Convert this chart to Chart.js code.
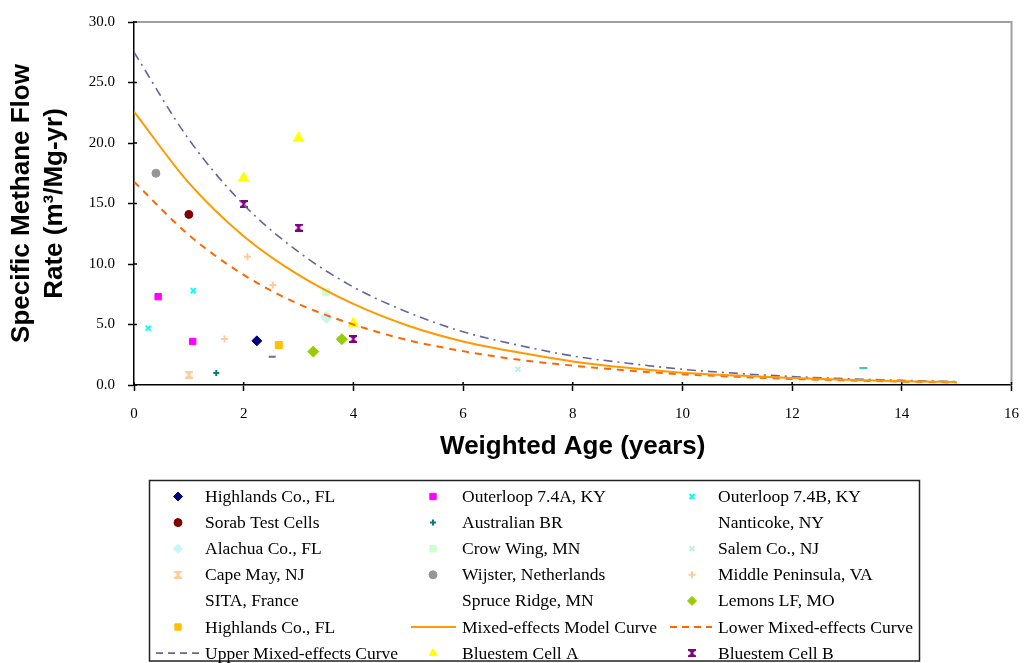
<!DOCTYPE html>
<html>
<head>
<meta charset="utf-8">
<script src="https://cdn.jsdelivr.net/npm/chart.js@4.4.1/dist/chart.umd.min.js"></script>
<style>
html,body{margin:0;padding:0;background:#fff;}
#wrap{width:1033px;height:663px;position:relative;}
</style>
</head>
<body>
<div id="wrap"><canvas id="c" width="1033" height="663"></canvas></div>
<script>
// ---------- data ----------
const xTickValues = [0, 2, 4, 6, 8, 10, 12, 14, 16];
const yTickValues = [0, 5, 10, 15, 20, 25, 30];

const curveAge   = [0, 1, 2, 3, 4, 5, 6, 7, 8, 9, 10, 11, 12, 13, 14, 15];
const mixedCurve = [22.6, 16.7, 12.3, 9.1, 6.7, 4.9, 3.6, 2.7, 1.95, 1.42, 1.02, 0.78, 0.58, 0.43, 0.32, 0.25];
const lowerCurve = [16.8, 12.4, 9.1, 6.7, 5.0, 3.7, 2.8, 2.1, 1.6, 1.2, 0.88, 0.68, 0.5, 0.38, 0.28, 0.2];
const upperCurve = [27.5, 20.3, 14.9, 11.0, 8.1, 6.0, 4.4, 3.3, 2.4, 1.8, 1.3, 0.96, 0.7, 0.52, 0.38, 0.28];

// [weighted age, specific methane flow rate]
const highlandsFL      = [[2.24, 3.65]];
const outerloop74A     = [[0.44, 7.3], [1.07, 3.6]];
const outerloop74B     = [[0.26, 4.7], [1.08, 7.8]];
const sorabTestCells   = [[1.0, 14.1]];
const australianBR     = [[1.5, 1.0]];
const nanticokeNY      = [[13.3, 1.4]];
const alachuaFL        = [[3.51, 5.6]];
const crowWingMN       = [[3.5, 7.7]];
const salemNJ          = [[7.0, 1.3]];
const capeMayNJ        = [[1.0, 0.85]];
const wijsterNL        = [[0.4, 17.5]];
const middlePeninsula  = [[2.07, 10.6], [2.53, 8.27], [1.65, 3.8]];
const sitaFrance       = [[2.52, 2.33]];
const spruceRidgeMN    = [];
const lemonsLF         = [[3.27, 2.76], [3.79, 3.79]];
const highlandsFL2     = [[2.64, 3.3]];
const bluestemA        = [[2.0, 17.1], [3.0, 20.4], [4.0, 5.1]];
const bluestemB        = [[2.0, 14.95], [3.0, 13.0], [4.0, 3.8]];

// ---------- helpers ----------
const pts = arr => arr.map(p => ({x: p[0], y: p[1]}));
const curvePts = ys => curveAge.map((a, i) => ({x: a, y: ys[i]}));

// Excel-like "star" marker, which looks like a small I-beam / hourglass
function beamMarker(color) {
  const c = document.createElement('canvas');
  c.width = 8; c.height = 8;
  const g = c.getContext('2d');
  g.fillStyle = color;
  g.strokeStyle = color;
  g.fillRect(0, 0, 8, 2);
  g.fillRect(0, 6, 8, 2);
  g.lineWidth = 1.4;
  g.beginPath();
  g.moveTo(1, 1); g.lineTo(7, 7);
  g.moveTo(7, 1); g.lineTo(1, 7);
  g.stroke();
  g.fillRect(3, 0, 2, 8);
  return c;
}

function marker(label, data, style, color, radius, opts) {
  const stroke = ['cross', 'crossRot', 'line', 'dash'].includes(style);
  return Object.assign({
    label: label,
    data: pts(data),
    showLine: false,
    pointStyle: style,
    pointRadius: radius,
    pointHoverRadius: radius,
    backgroundColor: color,
    borderColor: color,
    borderWidth: stroke ? 2 : 1,
    order: 2
  }, opts || {});
}
function curve(label, ys, color, dash, width) {
  return {
    label: label,
    data: curvePts(ys),
    showLine: true,
    pointRadius: 0,
    borderColor: color,
    backgroundColor: color,
    borderWidth: width,
    borderDash: dash,
    cubicInterpolationMode: 'monotone',
    fill: false,
    order: 1,
    isCurve: true
  };
}

const datasets = [
  marker('Highlands Co., FL', highlandsFL, 'rectRot', '#000080', 5),
  marker('Outerloop 7.4A, KY', outerloop74A, 'rect', '#FF00FF', 4.5),
  marker('Outerloop 7.4B, KY', outerloop74B, 'crossRot', '#00FFFF', 3.5),
  marker('Sorab Test Cells', sorabTestCells, 'circle', '#800000', 4),
  marker('Australian BR', australianBR, 'cross', '#008080', 3),
  marker('Nanticoke, NY', nanticokeNY, 'line', '#33CCCC', 4, {legendNoMarker: true}),
  marker('Alachua Co., FL', alachuaFL, 'rectRot', '#C4F7F7', 6),
  marker('Crow Wing, MN', crowWingMN, 'rect', '#CCFFCC', 5),
  marker('Salem Co., NJ', salemNJ, 'crossRot', '#BDEFEF', 3.5),
  marker('Cape May, NJ', capeMayNJ, beamMarker('#FFCC99'), '#FFCC99', 4),
  marker('Wijster, Netherlands', wijsterNL, 'circle', '#969696', 4),
  marker('Middle Peninsula, VA', middlePeninsula, 'cross', '#FFCC99', 3.5),
  marker('SITA, France', sitaFrance, 'line', '#6A6AA8', 3.5, {legendNoMarker: true}),
  marker('Spruce Ridge, MN', spruceRidgeMN, 'circle', '#FFFFFF', 3, {legendNoMarker: true}),
  marker('Lemons LF, MO', lemonsLF, 'rectRot', '#99CC00', 5.5),
  marker('Highlands Co., FL', highlandsFL2, 'rect', '#FFC000', 5),
  curve('Mixed-effects Model Curve', mixedCurve, '#FF9900', [], 2),
  curve('Lower Mixed-effects Curve', lowerCurve, '#FF6600', [7, 6], 2),
  curve('Upper Mixed-effects Curve', upperCurve, '#66669E', [9, 5, 2, 5], 1.6),
  marker('Bluestem Cell A', bluestemA, 'triangle', '#FFFF00', 6),
  marker('Bluestem Cell B', bluestemB, beamMarker('#800080'), '#800080', 4)
];

// ---------- plugins ----------
const frameAndTicks = {
  id: 'frameAndTicks',
  beforeDatasetsDraw(chart) {
    const {ctx, chartArea: a, scales} = chart;
    ctx.save();
    ctx.strokeStyle = '#A0A0A0';
    ctx.lineWidth = 2;
    ctx.beginPath();
    ctx.moveTo(a.left, a.top);
    ctx.lineTo(a.right, a.top);
    ctx.lineTo(a.right, a.bottom);
    ctx.stroke();
    ctx.strokeStyle = '#000';
    ctx.lineWidth = 1.5;
    ctx.beginPath();
    xTickValues.forEach(v => {
      const px = scales.x.getPixelForValue(v);
      ctx.moveTo(px, a.bottom);
      ctx.lineTo(px, a.bottom - 3);
    });
    yTickValues.forEach(v => {
      const py = scales.y.getPixelForValue(v);
      ctx.moveTo(a.left, py);
      ctx.lineTo(a.left + 3, py);
    });
    ctx.stroke();
    ctx.restore();
  }
};

function drawLegendPoint(ctx, ds, x, y) {
  const opts = {pointStyle: ds.pointStyle, radius: Math.min(ds.pointRadius, 4.5), rotation: 0, borderWidth: ds.borderWidth};
  ctx.fillStyle = ds.backgroundColor;
  ctx.strokeStyle = ds.borderColor;
  ctx.lineWidth = ds.borderWidth;
  if (window.Chart && Chart.helpers && Chart.helpers.drawPoint) {
    Chart.helpers.drawPoint(ctx, opts, x, y);
  } else {
    ctx.beginPath();
    ctx.arc(x, y, opts.radius, 0, Math.PI * 2);
    ctx.fill();
  }
}

const gridLegend = {
  id: 'gridLegend',
  afterDraw(chart) {
    const ctx = chart.ctx;
    const box = {left: 149.5, top: 480.5, right: 919.5, bottom: 661};
    const markerX = [178, 433, 692];
    const textX = [205, 462, 718];
    const rowY0 = 496.5, rowStep = 26.1;
    ctx.save();
    ctx.strokeStyle = '#222';
    ctx.lineWidth = 1.5;
    ctx.strokeRect(box.left, box.top, box.right - box.left, box.bottom - box.top);
    ctx.font = '17.5px "Liberation Serif", "Times New Roman", serif';
    ctx.fillStyle = '#000';
    ctx.textBaseline = 'middle';
    ctx.textAlign = 'left';
    chart.data.datasets.forEach((ds, i) => {
      const col = i % 3, row = Math.floor(i / 3);
      const y = rowY0 + row * rowStep;
      ctx.save();
      if (ds.isCurve) {
        ctx.strokeStyle = ds.borderColor;
        ctx.lineWidth = ds.borderWidth;
        ctx.setLineDash(ds.borderDash.length ? [7, 5] : []);
        ctx.beginPath();
        ctx.moveTo(markerX[col] - 22, y);
        ctx.lineTo(textX[col] - 6, y);
        ctx.stroke();
      } else if (!ds.legendNoMarker) {
        drawLegendPoint(ctx, ds, markerX[col], y);
      }
      ctx.restore();
      ctx.fillStyle = '#000';
      ctx.fillText(ds.label, textX[col], y + 1);
    });
    ctx.restore();
  }
};

// ---------- chart ----------
new Chart(document.getElementById('c'), {
  type: 'scatter',
  data: {datasets: datasets},
  plugins: [frameAndTicks, gridLegend],
  options: {
    responsive: false,
    animation: false,
    layout: {padding: {left: 0, top: 15, right: 10, bottom: 201}},
    plugins: {
      legend: {display: false},
      tooltip: {enabled: false}
    },
    scales: {
      x: {
        type: 'linear',
        min: 0, max: 16,
        afterBuildTicks: s => { s.ticks = xTickValues.map(v => ({value: v})); },
        ticks: {
          font: {family: '"Liberation Serif", "Times New Roman", serif', size: 15},
          color: '#000',
          padding: 14,
          callback: v => String(v)
        },
        grid: {drawOnChartArea: false, drawTicks: true, tickLength: 6, tickColor: '#000', tickWidth: 1.5},
        border: {color: '#000', width: 1.5},
        title: {
          display: true,
          text: 'Weighted Age (years)',
          color: '#000',
          font: {family: '"Liberation Sans", Arial, sans-serif', size: 26, weight: 'bold', lineHeight: 1.2},
          padding: {top: 0, bottom: 0}
        },
        afterFit: s => { s.height = 77; }
      },
      y: {
        type: 'linear',
        min: 0, max: 30,
        afterBuildTicks: s => { s.ticks = yTickValues.map(v => ({value: v})); },
        ticks: {
          font: {family: '"Liberation Serif", "Times New Roman", serif', size: 15},
          color: '#000',
          padding: 13,
          callback: v => Number(v).toFixed(1)
        },
        grid: {drawOnChartArea: false, drawTicks: true, tickLength: 6, tickColor: '#000', tickWidth: 1.5},
        border: {color: '#000', width: 1.5},
        title: {
          display: true,
          text: ['Specific Methane Flow', 'Rate (m\u00B3/Mg-yr)'],
          color: '#000',
          font: {family: '"Liberation Sans", Arial, sans-serif', size: 26, weight: 'bold', lineHeight: 1.25},
          padding: {top: 6, bottom: 0}
        },
        afterFit: s => { s.width = 134; }
      }
    }
  }
});
</script>
</body>
</html>
